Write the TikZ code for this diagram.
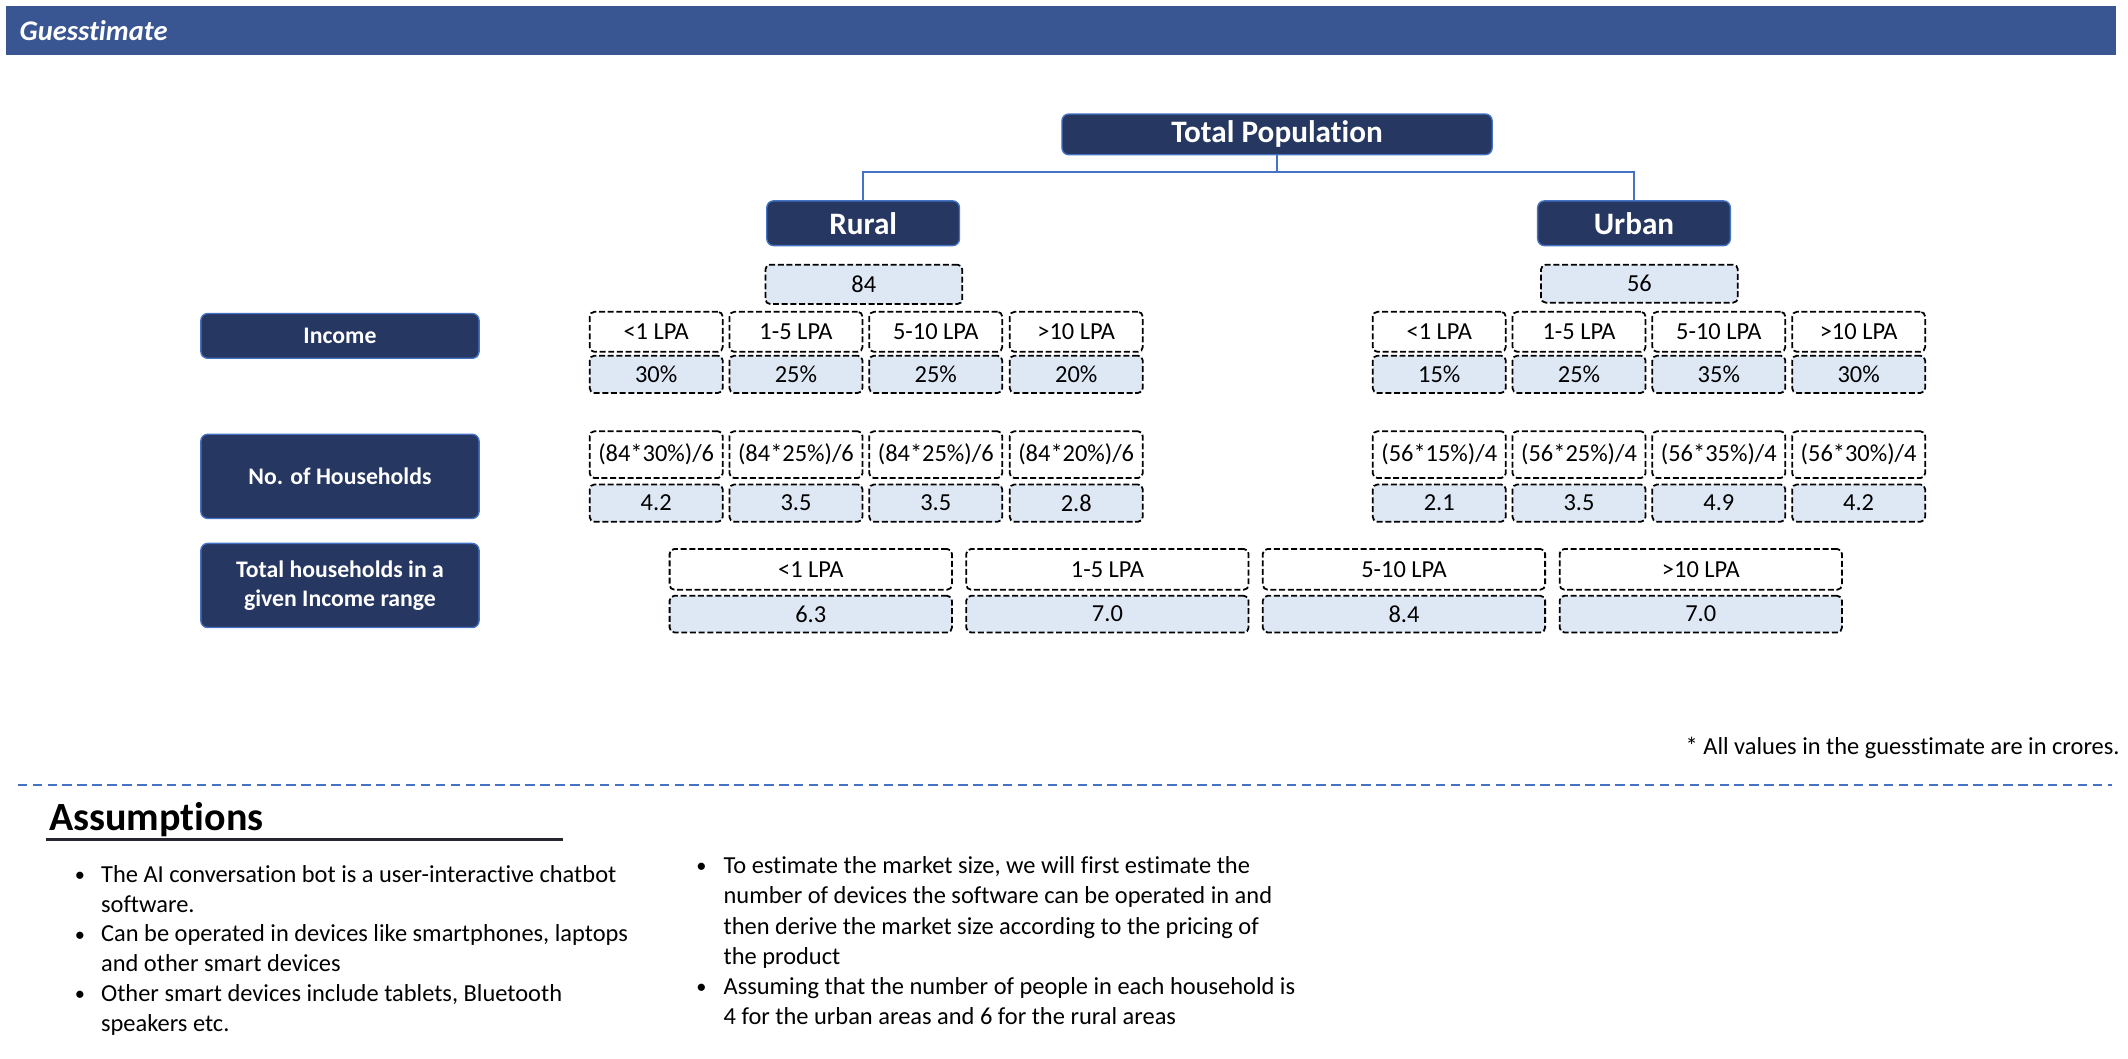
\documentclass[tikz,border=0pt]{standalone}
\usepackage{fontspec}
\setmainfont{Carlito}[Ligatures=NoCommon]

\definecolor{navy}{RGB}{38,55,97}
\definecolor{edgeblue}{RGB}{68,114,196}
\definecolor{bannerblue}{RGB}{57,86,146}
\definecolor{cellblue}{RGB}{222,232,245}
\definecolor{rulegray}{RGB}{38,38,48}

\newcommand{\dotmark}{\raisebox{0.5pt}{\fontsize{15}{15}\selectfont\textbullet}}

\tikzset{
  darkbox/.style={draw=edgeblue, line width=1pt, fill=navy, rounded corners=5pt, text=white, inner sep=0pt},
  sidelabel/.style={darkbox, minimum width=205, align=center, font=\fontsize{17.5}{21}\selectfont\bfseries},
  areabox/.style={darkbox, font=\fontsize{23}{26}\selectfont\bfseries},
  cellbox/.style={draw=black, line width=1.3pt, dash pattern=on 4.4pt off 2pt, rounded corners=3.5pt, fill=white, inner sep=0pt, font=\fontsize{18}{20}\selectfont},
  valbox/.style={cellbox, fill=cellblue},
  narrowcell/.style={minimum width=98},
  widecell/.style={minimum width=208},
  link/.style={draw=edgeblue, line width=1.5pt},
  bodytext/.style={inner sep=0pt, font=\fontsize{18}{22}\selectfont},
}

\begin{document}
\begin{tikzpicture}[x=1pt, y=-1pt]
            \useasboundingbox (0,0) rectangle (1568,779.6);
            \def \xlabel {250.5}
            \def \xra {483.5}
            \def \xrb {586.5}
            \def \xrc {689.5}
            \def \xrd {793}
            \def \xua {1060.5}
            \def \xub {1163.5}
            \def \xuc {1266.5}
            \def \xud {1369.5}
            \def \xta {597.4}
            \def \xtb {816}
            \def \xtc {1034.5}
            \def \xtd {1253.2}

            \def \yinc {244.5}
            \def \ypct {275.8}
            \def \yform {335}
            \def \yhh {370.7}
            \def \yrange {419.5}
            \def \ysum {452.5}
% banner
            \node [fill=bannerblue, anchor=north west, minimum width=1555, minimum height=36, inner sep=0pt] (banner) at (4,4.5) {};
            \node [anchor=west, text=white, font=\fontsize{21}{24}\selectfont\bfseries\itshape] (title) at (11,22.5) {Guesstimate};
% tree
            \node [areabox, minimum width=317, minimum height=30] (total) at (941,99) {Total Population};
            \node [areabox, minimum width=142, minimum height=33] (rural) at (636,164.5) {Rural};
            \node [areabox, minimum width=142, minimum height=33] (urban) at (1204,164.5) {Urban};
            \draw [link] (total.south) -- ++(0,12.5) -| (rural.north);
            \draw [link] (total.south) -- ++(0,12.5) -| (urban.north);
            \node [valbox, minimum width=145, minimum height=29] (ruralpop) at (636.5,209.5) {84};
            \node [valbox, minimum width=145, minimum height=28] (urbanpop) at (1208,209) {56};
% row labels
            \node [sidelabel, minimum height=33] (income) at (\xlabel,247.5) {Income};
            \node [sidelabel, minimum height=62] (households) at (\xlabel,351) {No. of Households};
            \node [sidelabel, minimum height=62] (totalhh) at (\xlabel,431.4) {Total households in a\\given Income range};
% rural income
            \node [cellbox, narrowcell, minimum height=29.5] (rinca) at (\xra,\yinc) {<1 LPA};
            \node [cellbox, narrowcell, minimum height=29.5] (rincb) at (\xrb,\yinc) {1-5 LPA};
            \node [cellbox, narrowcell, minimum height=29.5] (rincc) at (\xrc,\yinc) {5-10 LPA};
            \node [cellbox, narrowcell, minimum height=29.5] (rincd) at (\xrd,\yinc) {>10 LPA};
            \node [valbox, narrowcell, minimum height=27.5] (rpcta) at (\xra,\ypct) {30\%};
            \node [valbox, narrowcell, minimum height=27.5] (rpctb) at (\xrb,\ypct) {25\%};
            \node [valbox, narrowcell, minimum height=27.5] (rpctc) at (\xrc,\ypct) {25\%};
            \node [valbox, narrowcell, minimum height=27.5] (rpctd) at (\xrd,\ypct) {20\%};
% urban income
            \node [cellbox, narrowcell, minimum height=29.5] (uinca) at (\xua,\yinc) {<1 LPA};
            \node [cellbox, narrowcell, minimum height=29.5] (uincb) at (\xub,\yinc) {1-5 LPA};
            \node [cellbox, narrowcell, minimum height=29.5] (uincc) at (\xuc,\yinc) {5-10 LPA};
            \node [cellbox, narrowcell, minimum height=29.5] (uincd) at (\xud,\yinc) {>10 LPA};
            \node [valbox, narrowcell, minimum height=27.5] (upcta) at (\xua,\ypct) {15\%};
            \node [valbox, narrowcell, minimum height=27.5] (upctb) at (\xub,\ypct) {25\%};
            \node [valbox, narrowcell, minimum height=27.5] (upctc) at (\xuc,\ypct) {35\%};
            \node [valbox, narrowcell, minimum height=27.5] (upctd) at (\xud,\ypct) {30\%};
% households
            \node [cellbox, narrowcell, minimum height=34.5] (rforma) at (\xra,\yform) {(84*30\%)/6};
            \node [cellbox, narrowcell, minimum height=34.5] (rformb) at (\xrb,\yform) {(84*25\%)/6};
            \node [cellbox, narrowcell, minimum height=34.5] (rformc) at (\xrc,\yform) {(84*25\%)/6};
            \node [cellbox, narrowcell, minimum height=34.5] (rformd) at (\xrd,\yform) {(84*20\%)/6};
            \node [valbox, narrowcell, minimum height=27.5] (rhha) at (\xra,\yhh) {4.2};
            \node [valbox, narrowcell, minimum height=27.5] (rhhb) at (\xrb,\yhh) {3.5};
            \node [valbox, narrowcell, minimum height=27.5] (rhhc) at (\xrc,\yhh) {3.5};
            \node [valbox, narrowcell, minimum height=27.5] (rhhd) at (\xrd,\yhh) {2.8};
            \node [cellbox, narrowcell, minimum height=34.5] (uforma) at (\xua,\yform) {(56*15\%)/4};
            \node [cellbox, narrowcell, minimum height=34.5] (uformb) at (\xub,\yform) {(56*25\%)/4};
            \node [cellbox, narrowcell, minimum height=34.5] (uformc) at (\xuc,\yform) {(56*35\%)/4};
            \node [cellbox, narrowcell, minimum height=34.5] (uformd) at (\xud,\yform) {(56*30\%)/4};
            \node [valbox, narrowcell, minimum height=27.5] (uhha) at (\xua,\yhh) {2.1};
            \node [valbox, narrowcell, minimum height=27.5] (uhhb) at (\xub,\yhh) {3.5};
            \node [valbox, narrowcell, minimum height=27.5] (uhhc) at (\xuc,\yhh) {4.9};
            \node [valbox, narrowcell, minimum height=27.5] (uhhd) at (\xud,\yhh) {4.2};
% totals per income range
            \node [cellbox, widecell, minimum height=30] (trangea) at (\xta,\yrange) {<1 LPA};
            \node [cellbox, widecell, minimum height=30] (trangeb) at (\xtb,\yrange) {1-5 LPA};
            \node [cellbox, widecell, minimum height=30] (trangec) at (\xtc,\yrange) {5-10 LPA};
            \node [cellbox, widecell, minimum height=30] (tranged) at (\xtd,\yrange) {>10 LPA};
            \node [valbox, widecell, minimum height=27] (tsuma) at (\xta,\ysum) {6.3};
            \node [valbox, widecell, minimum height=27] (tsumb) at (\xtb,\ysum) {7.0};
            \node [valbox, widecell, minimum height=27] (tsumc) at (\xtc,\ysum) {8.4};
            \node [valbox, widecell, minimum height=27] (tsumd) at (\xtd,\ysum) {7.0};
% note and assumptions
            \node [bodytext, anchor=base east] (note) at (1562,555.6) {* All values in the guesstimate are in crores.};
            \draw [edgeblue, line width=1pt, dash pattern=on 7pt off 4pt] (13,578.5) -- (1556,578.5);
            \node [inner sep=0pt, anchor=base west, font=\fontsize{29.5}{32}\selectfont\bfseries] (assume) at (36,612) {Assumptions};
            \draw [rulegray, line width=2pt] (34,618.5) -- (414.5,618.5);
            \node [bodytext, anchor=base west] (leftlist) at (55,650) {\begin{tabular}[t]{@{}l@{}l@{}}
                \makebox[19.3pt][l]{\dotmark} & The AI conversation bot is a user-interactive chatbot\\
                & software.\\
                \makebox[19.3pt][l]{\dotmark} & Can be operated in devices like smartphones, laptops\\
                & and other smart devices\\
                \makebox[19.3pt][l]{\dotmark} & Other smart devices include tablets, Bluetooth\\
                & speakers etc.
            \end{tabular}};
            \node [bodytext, anchor=base west, font=\fontsize{18}{22.35}\selectfont] (rightlist) at (513,643.5) {\begin{tabular}[t]{@{}l@{}l@{}}
                \makebox[20pt][l]{\dotmark} & To estimate the market size, we will first estimate the\\
                & number of devices the software can be operated in and\\
                & then derive the market size according to the pricing of\\
                & the product\\
                \makebox[20pt][l]{\dotmark} & Assuming that the number of people in each household is\\
                & 4 for the urban areas and 6 for the rural areas
            \end{tabular}};
\end{tikzpicture}
\end{document}
